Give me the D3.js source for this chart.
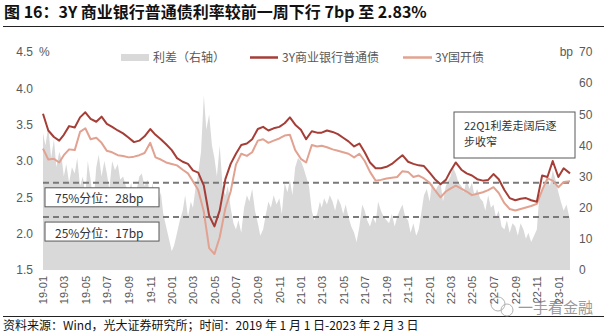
<!DOCTYPE html>
<html><head><meta charset="utf-8">
<script src="https://cdn.jsdelivr.net/npm/d3@7"></script>
<style>
body{margin:0;background:#fff;}
svg{display:block;font-family:"Liberation Sans",Arial,"Noto Sans CJK SC",sans-serif;}
.cjk{font-family:"Noto Sans CJK SC","Liberation Sans",sans-serif;}
</style></head>
<body>
<svg id="c" width="607" height="335"></svg>
<script>
// ---- data ----
const titleText = "图 16：3Y 商业银行普通债利率较前一周下行 7bp 至 2.83%";
const sourceText = "资料来源：Wind，光大证券研究所；时间：2019 年 1 月 1 日-2023 年 2 月 3 日";
const seriesNames = ["利差（右轴）", "3Y商业银行普通债", "3Y国开债"];
const startMonth = [2019, 0];
const monthCount = 49;
const endDate = [2023, 1, 3];
// semi-monthly (1st and 16th) values, last one = 2023-02-03
const bankYield = [
 3.65,3.42, 3.33,3.28, 3.36,3.48, 3.46,3.60, 3.67,3.58, 3.54,3.61, 3.51,3.47, 3.42,3.38,
 3.32,3.26, 3.28,3.34, 3.44,3.36, 3.30,3.23,
 3.15,3.04, 2.99,2.96, 2.87,2.84, 2.66,2.25, 2.10,2.32, 2.75,2.96, 3.10,3.22, 3.24,3.30,
 3.44,3.47, 3.42,3.45, 3.47,3.52, 3.60,3.50,
 3.43,3.30, 3.41,3.39, 3.39,3.42, 3.40,3.37, 3.32,3.27, 3.20,3.24, 3.12,2.98, 2.90,2.90,
 2.92,2.96, 3.02,3.08, 2.99,2.96, 2.94,2.93,
 2.84,2.75, 2.68,2.74, 2.86,2.98, 2.88,2.83, 2.80,2.75, 2.73,2.74, 2.82,2.75, 2.60,2.49,
 2.46,2.48, 2.49,2.46, 2.44,2.80, 2.78,3.00,
 2.78,2.90, 2.83
];
const cdbYield = [
 3.17,3.02, 3.03,2.98, 3.08,3.16, 3.15,3.40, 3.45,3.30, 3.32,3.25, 3.14,3.12, 3.08,3.07,
 3.05,3.06, 3.08,3.11, 3.25,3.05, 3.02,2.98,
 2.96,2.94, 2.88,2.83, 2.72,2.60, 2.30,1.80, 1.72,1.95, 2.35,2.58, 2.95,3.10, 3.07,3.12,
 3.28,3.30, 3.25,3.28, 3.31,3.35, 3.36,3.15,
 3.03,2.98, 3.22,3.20, 3.21,3.19, 3.16,3.14, 3.12,3.10, 3.05,3.10, 3.00,2.85, 2.73,2.74,
 2.76,2.77, 2.78,2.86, 2.85,2.78, 2.80,2.76,
 2.70,2.60, 2.50,2.58, 2.62,2.66, 2.62,2.58, 2.53,2.55, 2.57,2.60, 2.64,2.56, 2.42,2.34,
 2.32,2.34, 2.36,2.38, 2.41,2.60, 2.76,2.73,
 2.64,2.71, 2.72
];
// weekly-ish (1st, 8th, 16th, 24th) spread in bp, last one = 2023-02-03
const spreadDays = [1, 8, 16, 24];
const spreadBp = [
 44,40,46,36, 42,33,38,35, 30,34,28,33, 31,36,27,30, 24,35,29,21, 33,37,30,35,
 31,26,35,32, 34,29,30,27, 25,28,22,26, 30,31,27,29, 24,28,20,22, 25,18,14,10,
 6,8,12,16, 19,24,17,22, 20,26,31,38, 56,45,50,40, 36,30,40,27, 24,27,20,15,
 13,16,12,20, 24,22,26,19, 15,11,13,18, 22,20,24,21, 23,18,28,25, 29,24,33,36,
 35,33,30,27, 19,16,18,22, 20,23,21,24, 22,19,23,21, 18,21,17,14, 12,9,14,21,
 19,16,14,17, 15,22,19,17, 16,15,18,14, 17,19,21,17, 16,12,15,11, 13,18,24,26,
 22,28,25,27, 28,22,27,29, 30,33,31,28, 27,25,29,26, 28,24,26,23, 22,19,24,20,
 21,17,19,14, 13,16,12,15, 14,11,15,13, 10,12,9,11, 13,24,26,28, 30,27,32,29,
 25,22,19,21, 16
];
const leftTicks = [1.5, 2.0, 2.5, 3.0, 3.5, 4.0, 4.5];
const rightTicks = [0, 10, 20, 30, 40, 50, 60, 70];
const quantiles = [
 {label: "75%分位：28bp", value: 28},
 {label: "25%分位：17bp", value: 17}
];
const noteLines = ["22Q1利差走阔后逐", "步收窄"];
const watermark = "一手看金融";

// ---- build dates ----
const semiDates = [];
for (let m = 0; m < monthCount; m++) {
  semiDates.push(new Date(startMonth[0], startMonth[1] + m, 1));
  semiDates.push(new Date(startMonth[0], startMonth[1] + m, 16));
}
semiDates.push(new Date(...endDate));
const weekDates = [];
for (let m = 0; m < monthCount; m++) spreadDays.forEach(d => weekDates.push(new Date(startMonth[0], startMonth[1] + m, d)));
weekDates.push(new Date(...endDate));

const bankData = bankYield.map((v, i) => ({d: semiDates[i], v}));
const cdbData = cdbYield.map((v, i) => ({d: semiDates[i], v}));
const spreadData = spreadBp.map((v, i) => ({d: weekDates[i], v}));

// ---- scales ----
const L = 43, R = 570, T = 52, B = 270;
const x = d3.scaleTime().domain([new Date(startMonth[0], startMonth[1], 1), new Date(...endDate)]).range([L, R]);
const yL = d3.scaleLinear().domain([1.5, 4.5]).range([B, T]);
const yR = d3.scaleLinear().domain([0, 70]).range([B, T]);

const svg = d3.select("#c");
const gray = "#595959";
const cDark = "#A53E37", cLight = "#E2A291", cArea = "#D9D9D9";

// title
svg.append("text").attr("class", "cjk").attr("x", 4).attr("y", 18)
  .attr("font-size", 16).attr("font-weight", "bold").attr("fill", "#111").text(titleText);
svg.append("line").attr("x1", 3).attr("x2", 604).attr("y1", 26.5).attr("y2", 26.5)
  .attr("stroke", "#222").attr("stroke-width", 1.2);

// spread area
svg.append("path").datum(spreadData)
  .attr("d", d3.area().x(d => x(d.d)).y0(yR(0)).y1(d => yR(d.v)))
  .attr("fill", cArea);

// quantile dashed lines
svg.selectAll(".q").data(quantiles).enter().append("line")
  .attr("x1", L).attr("x2", R).attr("y1", d => yR(d.value)).attr("y2", d => yR(d.value))
  .attr("stroke", "#7a7a7a").attr("stroke-width", 2).attr("stroke-dasharray", "6,4");

// quantile boxes
const qb = svg.selectAll(".qb").data(quantiles).enter().append("g")
  .attr("transform", d => `translate(45,${yR(d.value) + 5})`);
qb.append("rect").attr("width", 114).attr("height", 19).attr("fill", "#fff")
  .attr("stroke", gray).attr("stroke-width", 1);
qb.append("text").attr("class", "cjk").attr("x", 10).attr("y", 15.5)
  .attr("font-size", 12).attr("fill", "#333").text(d => d.label);

// lines
const line = d3.line().x(d => x(d.d)).y(d => yL(d.v));
svg.append("path").datum(cdbData).attr("d", line).attr("fill", "none")
  .attr("stroke", cLight).attr("stroke-width", 2).attr("stroke-linejoin", "round");
svg.append("path").datum(bankData).attr("d", line).attr("fill", "none")
  .attr("stroke", cDark).attr("stroke-width", 2).attr("stroke-linejoin", "round");

// note box
const nb = svg.append("g").attr("transform", "translate(454,112)");
nb.append("rect").attr("width", 121).attr("height", 46).attr("fill", "#fff")
  .attr("stroke", gray).attr("stroke-width", 1);
nb.selectAll("text").data(noteLines).enter().append("text").attr("class", "cjk")
  .attr("x", 10).attr("y", (d, i) => 18 + i * 16).attr("font-size", 11).attr("fill", "#333").text(d => d);

// left axis
const axL = svg.append("g").attr("transform", `translate(33,0)`)
  .call(d3.axisLeft(yL).tickValues(leftTicks).tickSize(0).tickPadding(0).tickFormat(d3.format(".1f")));
axL.select(".domain").remove();
axL.selectAll("text").attr("font-size", 12).attr("fill", gray).attr("font-family", "Liberation Sans, Arial, sans-serif");
svg.append("text").attr("x", 39).attr("y", yL(4.5) + 4).attr("font-size", 12).attr("fill", gray).text("%");

// right axis
const axR = svg.append("g").attr("transform", `translate(579,0)`)
  .call(d3.axisRight(yR).tickValues(rightTicks).tickSize(0).tickPadding(0));
axR.select(".domain").remove();
axR.selectAll("text").attr("font-size", 12).attr("fill", gray).attr("font-family", "Liberation Sans, Arial, sans-serif");
svg.append("text").attr("x", 573).attr("y", yR(70) + 4).attr("text-anchor", "end")
  .attr("font-size", 12).attr("fill", gray).text("bp");

// x axis
const xTicks = d3.timeMonth.every(2).range(new Date(2019, 0, 1), new Date(2023, 1, 1));
const axX = svg.append("g").attr("transform", `translate(0,${B + 6})`)
  .call(d3.axisBottom(x).tickValues(xTicks).tickSize(0).tickPadding(0).tickFormat(d3.timeFormat("%y-%m")));
axX.select(".domain").remove();
axX.selectAll("text").attr("font-size", 11).attr("fill", gray)
  .attr("font-family", "Liberation Sans, Arial, sans-serif")
  .attr("text-anchor", "end").attr("dy", "0.35em").attr("transform", "rotate(-90)").attr("x", 0).attr("y", 0);

// legend
const lg = svg.append("g").attr("class", "cjk").attr("font-size", 12).attr("fill", gray);
lg.append("rect").attr("x", 121).attr("y", 54).attr("width", 28).attr("height", 7).attr("fill", cArea);
lg.append("text").attr("x", 153).attr("y", 62).text(seriesNames[0]);
lg.append("line").attr("x1", 250).attr("x2", 278).attr("y1", 57.5).attr("y2", 57.5).attr("stroke", cDark).attr("stroke-width", 2.5);
lg.append("text").attr("x", 282).attr("y", 62).text(seriesNames[1]);
lg.append("line").attr("x1", 403).attr("x2", 432).attr("y1", 57.5).attr("y2", 57.5).attr("stroke", cLight).attr("stroke-width", 2.5);
lg.append("text").attr("x", 435).attr("y", 62).text(seriesNames[2]);

// footer
svg.append("line").attr("x1", 3).attr("x2", 604).attr("y1", 316.5).attr("y2", 316.5)
  .attr("stroke", "#222").attr("stroke-width", 1);
svg.append("text").attr("class", "cjk").attr("x", 3).attr("y", 330).attr("font-size", 12)
  .attr("fill", "#111").text(sourceText);

// watermark
const wm = svg.append("g").attr("opacity", 0.75);
wm.append("circle").attr("cx", 498).attr("cy", 304).attr("r", 7).attr("fill", "none").attr("stroke", "#999").attr("stroke-width", 1);
wm.append("circle").attr("cx", 507).attr("cy", 310).attr("r", 6).attr("fill", "none").attr("stroke", "#999").attr("stroke-width", 1);
wm.append("text").attr("class", "cjk").attr("x", 518).attr("y", 313).attr("font-size", 15)
  .attr("fill", "#777").text(watermark);
</script>
</body></html>
